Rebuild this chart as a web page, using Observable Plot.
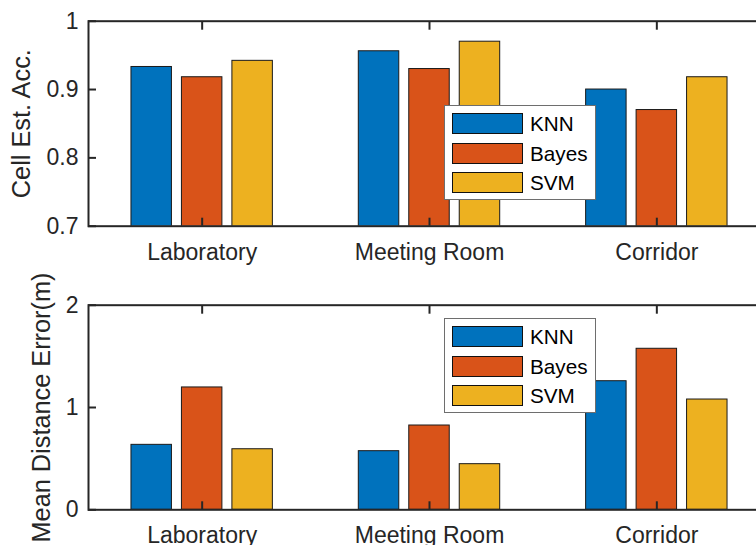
<!DOCTYPE html>
<html><head><meta charset="utf-8">
<script src="https://cdn.jsdelivr.net/npm/d3@7"></script>
<script src="https://cdn.jsdelivr.net/npm/@observablehq/plot@0.6"></script>
<style>
html,body{margin:0;padding:0;background:#fff;}
#fig{position:relative;width:756px;height:545px;overflow:hidden;background:#fff;font-family:"Liberation Sans",Arial,Helvetica,sans-serif;color:#262626;}
.panel{position:absolute;left:0;max-width:none !important;}
.legend{position:absolute;background:#fff;border:1px solid #6e6e6e;box-sizing:border-box;}
.row{position:absolute;left:7px;height:22px;width:150px;}
.sw{position:absolute;left:0;top:0;width:71px;height:21px;border:1px solid #111;box-sizing:border-box;}
.lt{position:absolute;left:78px;top:-1px;font-size:20.7px;line-height:24px;color:#000;}
</style></head><body><div id="fig"></div>
<script>
// ---- data ----
const categories = ["Laboratory", "Meeting Room", "Corridor"];
const series = ["KNN", "Bayes", "SVM"];
const colors = ["#0072BD", "#D95319", "#EDB120"];

const accKNN   = [0.933, 0.956, 0.900];
const accBayes = [0.918, 0.930, 0.870];
const accSVM   = [0.942, 0.970, 0.918];

const errKNN   = [0.635, 0.573, 1.257];
const errBayes = [1.196, 0.824, 1.574];
const errSVM   = [0.592, 0.446, 1.078];

const xTicks = [1, 2, 3];
const accTicks = [0.7, 0.8, 0.9, 1];
const errTicks = [0, 1, 2];

const accLabel = "Cell Est. Acc.";
const errLabel = "Mean Distance Error(m)";

// ---- layout constants ----
const groupOffsets = [-0.222, 0, 0.222];
const barW = 0.178;
const W = 800;

function rows(arrs) {
  const out = [];
  arrs.forEach((arr, j) => arr.forEach((v, i) => out.push({i, j, series: series[j], value: v})));
  return out;
}

function panel({data, yDomain, yTicks, yLabel, labelDx, top, height, marginTop, marginBottom}) {
  const chart = Plot.plot({
    width: W, height,
    marginLeft: 88, marginRight: W - 770, marginTop, marginBottom,
    style: {fontFamily: '"Liberation Sans", Arial, sans-serif', fontSize: "23px", color: "#262626", background: "transparent", overflow: "visible", maxWidth: "none"},
    x: {domain: [0.5, 3.5]},
    y: {domain: yDomain},
    color: {domain: series, range: colors},
    marks: [
      Plot.rectY(data, {
        x1: d => d.i + 1 + groupOffsets[d.j] - barW / 2,
        x2: d => d.i + 1 + groupOffsets[d.j] + barW / 2,
        y1: 0, y2: "value",
        fill: "series", stroke: "#1a1a1a", strokeWidth: 1, clip: true
      }),
      Plot.frame({stroke: "#262626", strokeWidth: 2}),
      Plot.axisX({anchor: "bottom", ticks: xTicks, tickFormat: d => categories[d - 1], tickSize: 8, insetBottom: 8, tickPadding: 17, strokeWidth: 2, label: null, fill: "#262626"}),
      Plot.axisX({anchor: "top", ticks: xTicks, tickFormat: () => "", tickSize: 8, insetTop: 8, strokeWidth: 2, label: null}),
      Plot.axisY({anchor: "left", ticks: yTicks, tickFormat: d => String(d), tickSize: 8, insetLeft: 8, tickPadding: 10, strokeWidth: 2, label: null, fill: "#262626"}),
      Plot.text([yLabel], {frameAnchor: "left", rotate: -90, dx: labelDx, text: d => d, textAnchor: "middle", lineAnchor: "top", fontSize: 25.3, fill: "#262626"})
    ]
  });
  chart.classList.add("panel");
  chart.style.top = top + "px";
  chart.style.maxWidth = "none";
  return chart;
}

function legend(top) {
  const lg = document.createElement("div");
  lg.className = "legend";
  Object.assign(lg.style, {left: "444px", top: top + "px", width: "152px", height: "95px"});
  series.forEach((s, k) => {
    const r = document.createElement("div");
    r.className = "row";
    r.style.top = (7 + k * 29.6) + "px";
    const sw = document.createElement("div");
    sw.className = "sw";
    sw.style.background = colors[k];
    const t = document.createElement("div");
    t.className = "lt";
    t.textContent = s;
    r.appendChild(sw); r.appendChild(t);
    lg.appendChild(r);
  });
  return lg;
}

const fig = document.getElementById("fig");
fig.appendChild(panel({
  data: rows([accKNN, accBayes, accSVM]), yDomain: [0.7, 1], yTicks: accTicks, yLabel: accLabel,
  labelDx: -76, top: 0, height: 272, marginTop: 20.7, marginBottom: 46.3
}));
fig.appendChild(panel({
  data: rows([errKNN, errBayes, errSVM]), yDomain: [0, 2], yTicks: errTicks, yLabel: errLabel,
  labelDx: -56.5, top: 272, height: 273, marginTop: 32.7, marginBottom: 35.7
}));
fig.appendChild(legend(105));
fig.appendChild(legend(318));
</script>
</body></html>
